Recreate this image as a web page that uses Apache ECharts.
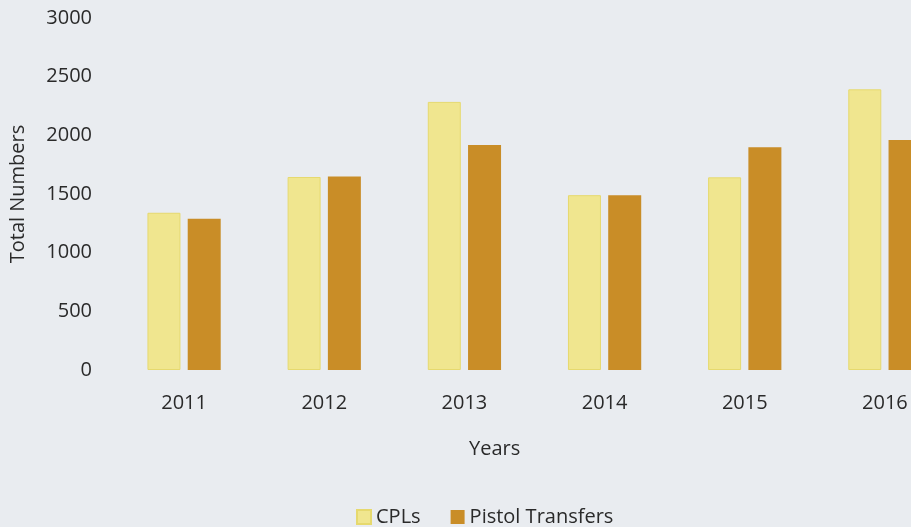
<!DOCTYPE html>
<html>
<head>
<meta charset="utf-8">
<script src="https://cdn.jsdelivr.net/npm/echarts@6/dist/echarts.min.js"></script>
<style>
	html, body { margin: 0; padding: 0; background: #e9ecf0; }
	#chart { width: 911px; height: 527px; }
</style>
</head>
<body>
<div id="chart"></div>
<script>
var years = ['2011', '2012', '2013', '2014', '2015', '2016'];
var cplData = [1340, 1645, 2285, 1490, 1642, 2392];
var pistolData = [1288, 1650, 1918, 1490, 1898, 1960];
var yTicks = [0, 500, 1000, 1500, 2000, 2500, 3000];

var textColor = '#2a2a2a';
var fontName = '"Open Sans", sans-serif';

var chart = echarts.init(document.getElementById('chart'));
var option = {
	backgroundColor: '#e9ecf0',
	animation: false,
	textStyle: { fontFamily: fontName },
	grid: {
		left: 114,
		top: 18,
		width: 841,
		height: 352,
		containLabel: false,
		outerBoundsMode: 'none'
	},
	legend: {
		left: 351,
		top: 502,
		itemWidth: 14,
		itemHeight: 14,
		itemGap: 30,
		icon: 'rect',
		textStyle: { color: textColor, fontSize: 20, fontFamily: fontName },
		data: ['CPLs', 'Pistol Transfers']
	},
	graphic: [{
		type: 'text',
		left: 469,
		top: 439,
		style: { text: 'Years', fill: textColor, font: '20px "Open Sans", sans-serif' }
	}],
	xAxis: {
		type: 'category',
		data: years,
		axisLine: { show: false },
		axisTick: { show: false },
		axisLabel: { color: textColor, fontSize: 20, margin: 23 }
	},
	yAxis: {
		type: 'value',
		min: yTicks[0],
		max: yTicks[yTicks.length - 1],
		interval: 500,
		name: 'Total Numbers',
		nameLocation: 'middle',
		nameGap: 86,
		nameTextStyle: { color: textColor, fontSize: 20 },
		axisLine: { show: false },
		axisTick: { show: false },
		splitLine: { show: false },
		axisLabel: {
			color: textColor,
			fontSize: 20,
			margin: 22,
			formatter: function (v) { return String(v); }
		}
	},
	series: [{
		name: 'CPLs',
		type: 'bar',
		barWidth: 33,
		barGap: '22%',
		itemStyle: { color: '#f0e68f', borderColor: '#e6d96e', borderWidth: 1 },
		data: cplData
	}, {
		name: 'Pistol Transfers',
		type: 'bar',
		barWidth: 33,
		itemStyle: { color: '#c98d27' },
		data: pistolData
	}]
};
chart.setOption(option);
</script>
</body>
</html>
